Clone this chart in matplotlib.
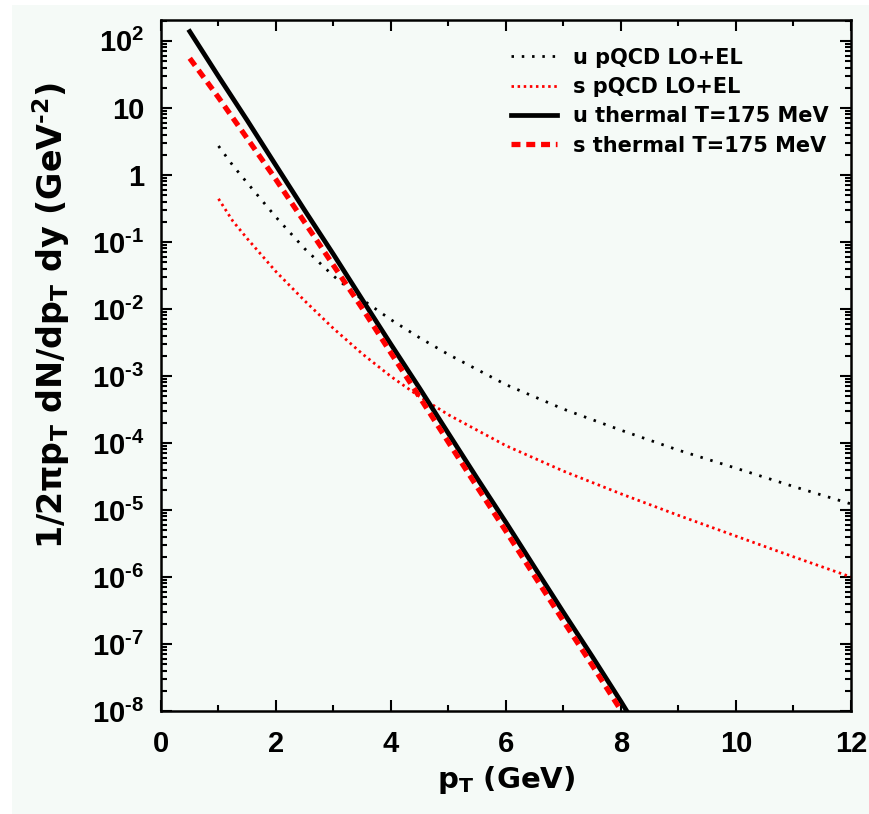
import matplotlib
matplotlib.use("Agg")
import matplotlib.pyplot as plt
from matplotlib.patches import Rectangle
from matplotlib.ticker import FixedLocator, LogLocator, NullFormatter, FuncFormatter, MultipleLocator
import numpy as np

plt.rcParams['font.family'] = ['DejaVu Sans']
plt.rcParams['font.weight'] = 'bold'
plt.rcParams['mathtext.fontset'] = 'custom'
plt.rcParams['mathtext.rm'] = 'DejaVu Sans:bold'
plt.rcParams['mathtext.it'] = 'DejaVu Sans:bold'
plt.rcParams['mathtext.bf'] = 'DejaVu Sans:bold'
plt.rcParams['mathtext.sf'] = 'Liberation Sans:bold'

# ---- data ----
pt_u_thermal = [0.5, 1.0, 1.5, 2.0, 2.5, 3.0, 3.5, 4.0, 4.5, 5.0, 5.5, 6.0, 6.5, 7.0, 7.5, 8.0, 8.1]
u_thermal = [138, 29.5, 6.5, 1.38, 0.295, 0.065, 0.0138, 2.95e-3, 6.5e-4, 1.38e-4,
             2.95e-5, 6.5e-6, 1.38e-6, 2.95e-7, 6.5e-8, 1.38e-8, 1.0e-8]

pt_s_thermal = [0.5, 1.0, 1.5, 2.0, 2.5, 3.0, 3.5, 4.0, 4.5, 5.0, 5.5, 6.0, 6.5, 7.0, 7.5, 8.0]
s_thermal = [55, 14.3, 3.5, 0.85, 0.195, 0.0446, 0.0102, 2.19e-3, 4.8e-4, 1.02e-4,
             2.19e-5, 4.8e-6, 1.02e-6, 2.19e-7, 4.8e-8, 1.02e-8]

pt_pqcd = [1.0, 1.25, 1.5, 2.0, 2.5, 3.0, 3.5, 4.0, 4.5, 5.0, 6.0, 7.0, 8.0, 9.0, 10.0, 11.0, 12.0]
u_pqcd = [2.7, 1.38, 0.76, 0.234, 0.079, 0.031, 0.0138, 6.9e-3, 3.7e-3, 2.09e-3,
          7.4e-4, 3.2e-4, 1.55e-4, 7.8e-5, 4.2e-5, 2.24e-5, 1.23e-5]
s_pqcd = [0.44, 0.204, 0.112, 0.036, 0.0132, 5.1e-3, 2.14e-3, 9.8e-4, 4.9e-4, 2.63e-4,
          9.1e-5, 3.8e-5, 1.74e-5, 8.3e-6, 4.07e-6, 2.0e-6, 1.0e-6]

labels = ['u pQCD LO+EL', 's pQCD LO+EL', 'u thermal T=175 MeV', 's thermal T=175 MeV']

BG = '#f5faf7'
W, H = 870, 814
fig = plt.figure(figsize=(W / 100, H / 100), dpi=100, facecolor='white')
fig.patches.append(Rectangle((12 / W, 0), 1 - 12 / W, 1 - 5 / H, transform=fig.transFigure,
                             facecolor=BG, edgecolor='none', zorder=-10))
ax = fig.add_axes([161 / W, 1 - 711 / H, 690 / W, 691 / H])
ax.set_facecolor(BG)

ax.plot(pt_pqcd, u_pqcd, color='black', lw=2.0, linestyle=(0, (0.9, 2.8)), label=labels[0])
ax.plot(pt_pqcd, s_pqcd, color='red', lw=2.0, linestyle=(0, (0.9, 1.3)), label=labels[1])
ax.plot(pt_u_thermal, u_thermal, color='black', lw=3.4, label=labels[2])
ax.plot(pt_s_thermal, s_thermal, color='red', lw=3.8, linestyle=(0, (1.7, 1.1)), label=labels[3])

ax.set_yscale('log')
ax.set_xlim(0, 12)
ax.set_ylim(1e-8, 205)

ax.xaxis.set_major_locator(MultipleLocator(2))
ax.xaxis.set_minor_locator(MultipleLocator(1))
ax.yaxis.set_major_locator(FixedLocator([10.0 ** k for k in range(-8, 3)]))
ax.yaxis.set_minor_locator(LogLocator(base=10, subs=np.arange(2, 10), numticks=30))
ax.yaxis.set_minor_formatter(NullFormatter())

def yfmt(v, pos):
    k = int(round(np.log10(v)))
    if k == 0:
        return '1'
    if k == 1:
        return '10'
    if k < 0:
        return '$\\mathsf{10^{\u2010' + str(-k) + '}}$'
    return '$\\mathsf{10^{' + str(k) + '}}$'

ax.yaxis.set_major_formatter(FuncFormatter(yfmt))
ax.tick_params(which='both', direction='in', top=True, right=True, width=1.5, colors='black')
ax.tick_params(which='major', length=8, labelsize=21, labelfontfamily='Liberation Sans')
ax.tick_params(which='minor', length=4.5)
ax.tick_params(axis='x', which='major', pad=14)
ax.tick_params(axis='y', which='major', pad=12)
for s in ax.spines.values():
    s.set_linewidth(1.8)

ax.set_xlabel(r'p$_{\mathrm{T}}$ (GeV)', fontsize=21, fontweight='bold')
ax.xaxis.set_label_coords(0.5, -0.077)
ax.set_ylabel('1/2\u03c0p$_{\\mathrm{T}}$ dN/dp$_{\\mathrm{T}}$ dy (GeV$^{\u20102}$)', fontsize=24,
              fontweight='bold')
ax.yaxis.set_label_coords(-0.129, 0.572)

leg = ax.legend(loc='upper left', bbox_to_anchor=(0.507, 0.960), frameon=False, fontsize=15,
                handlelength=2.2, handletextpad=0.8, labelspacing=0.45, borderpad=0,
                borderaxespad=0)
for t in leg.get_texts():
    t.set_fontweight('bold')

fig.savefig('out.png', dpi=100, facecolor=fig.get_facecolor())
